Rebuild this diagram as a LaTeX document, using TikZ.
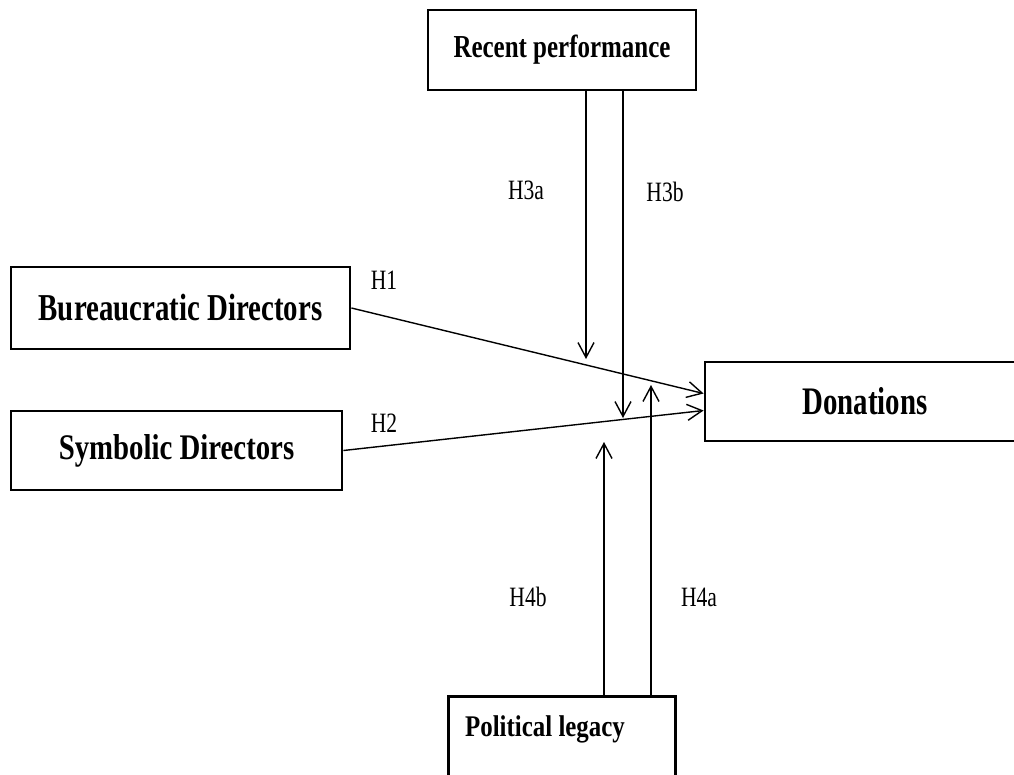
\documentclass[tikz,border=0pt]{standalone}
\usepackage{fontspec}
\setmainfont{Liberation Serif}
\usetikzlibrary{arrows.meta,calc}
% horizontally condensed text
\newcommand{\narrow}[2]{\scalebox{#1}[1]{#2}}

\begin{document}
\begin{tikzpicture}[x=1pt,y=-1pt,
  box/.style={draw, line width=2.8pt, inner sep=0pt},
  hyp/.style={font=\fontsize{28}{30}\selectfont, inner sep=0pt},
  link/.style={line width=1.4pt, -{Straight Barb[length=15pt,width=16pt]}}]

\useasboundingbox (0,0) rectangle (1014,774);

% constructs
\node[box, minimum width=268pt, minimum height=80pt] (rp) at (562,50)
  {\fontsize{32}{34}\selectfont\bfseries\narrow{0.78}{Recent performance}};
\node[box, minimum width=339pt, minimum height=82pt] (bd) at (180.5,308)
  {\fontsize{38}{40}\selectfont\bfseries\narrow{0.76}{Bureaucratic Directors}};
\node[box, minimum width=331pt, minimum height=79pt] (sd) at (176.5,450.5)
  {\fontsize{36}{38}\selectfont\bfseries\narrow{0.80}{Symbolic Directors}};
\node[box, minimum width=320pt, minimum height=79pt] (don) at (865,401.5)
  {\fontsize{39}{41}\selectfont\bfseries\narrow{0.74}{Donations}};
\node[box, anchor=north west, minimum width=227pt, minimum height=90pt] (pl) at (447,695) {};
\node[inner sep=0pt] (pltext) at (545,729)
  {\fontsize{30}{32}\selectfont\bfseries\narrow{0.83}{Political legacy}};

% arrow tips of the moderating paths
\coordinate (t3a) at (586,359);
\coordinate (t3b) at (623,418);
\coordinate (t4a) at (651,385);
\coordinate (t4b) at (604,442);

% direct effects
\draw[link] (bd.east) -- ($(don.west)+(0,-8)$);
\draw[link] (sd.east) -- ($(don.west)+(0,9)$);

% moderating effects
\draw[link] (rp.south -| t3a) -- (t3a);
\draw[link] (rp.south -| t3b) -- (t3b);
\draw[link] (pl.north -| t4a) -- (t4a);
\draw[link] (pl.north -| t4b) -- (t4b);

% hypothesis labels
\node[hyp] (h1) at (384,280) {\narrow{0.77}{H1}};
\node[hyp] (h2) at (384,423) {\narrow{0.77}{H2}};
\node[hyp] (h3a) at (526,190) {\narrow{0.77}{H3a}};
\node[hyp] (h3b) at (665,192) {\narrow{0.77}{H3b}};
\node[hyp] (h4b) at (528,597) {\narrow{0.77}{H4b}};
\node[hyp] (h4a) at (699,597) {\narrow{0.77}{H4a}};
\end{tikzpicture}
\end{document}
